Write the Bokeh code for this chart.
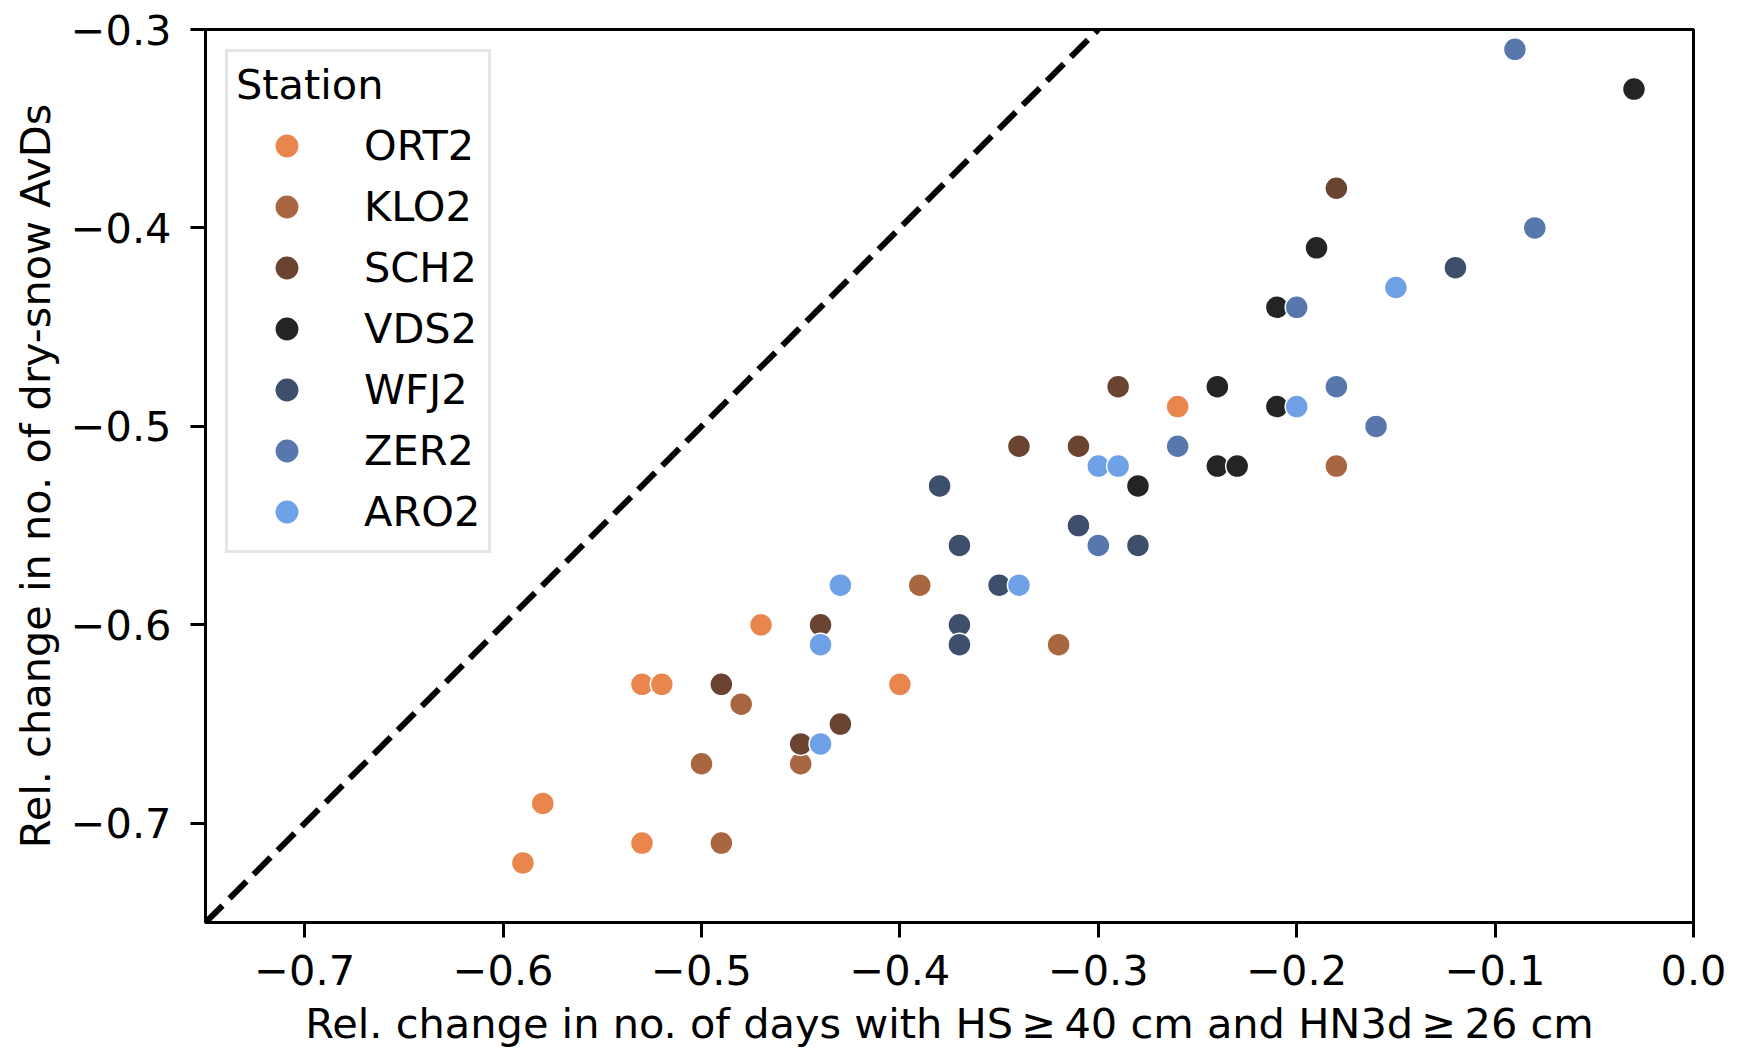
from bokeh.plotting import figure
from bokeh.models import (Legend, LegendItem, Slope, FixedTicker, ColumnDataSource,
                          CustomJSTickFormatter, Range1d)
from bokeh.embed import file_html
from bokeh.resources import INLINE

# ---------------- data ----------------
STATIONS = ["ORT2", "KLO2", "SCH2", "VDS2", "WFJ2", "ZER2", "ARO2"]
COLORS = ["#E8864E", "#A86641", "#6A4431", "#232426", "#3D4F6A", "#5878AD", "#6FA1E6"]

ORT2_X = [-0.26, -0.47, -0.53, -0.52, -0.40, -0.58, -0.59, -0.53]
ORT2_Y = [-0.49, -0.60, -0.63, -0.63, -0.63, -0.69, -0.72, -0.71]

KLO2_X = [-0.18, -0.39, -0.32, -0.48, -0.50, -0.45, -0.49]
KLO2_Y = [-0.52, -0.58, -0.61, -0.64, -0.67, -0.67, -0.71]

SCH2_X = [-0.18, -0.29, -0.34, -0.31, -0.44, -0.49, -0.43, -0.45]
SCH2_Y = [-0.38, -0.48, -0.51, -0.51, -0.60, -0.63, -0.65, -0.66]

VDS2_X = [-0.03, -0.19, -0.21, -0.24, -0.21, -0.24, -0.23, -0.28]
VDS2_Y = [-0.33, -0.41, -0.44, -0.48, -0.49, -0.52, -0.52, -0.53]

WFJ2_X = [-0.12, -0.38, -0.31, -0.37, -0.28, -0.35, -0.37, -0.37]
WFJ2_Y = [-0.42, -0.53, -0.55, -0.56, -0.56, -0.58, -0.60, -0.61]

ZER2_X = [-0.09, -0.08, -0.20, -0.18, -0.16, -0.26, -0.30]
ZER2_Y = [-0.31, -0.40, -0.44, -0.48, -0.50, -0.51, -0.56]

ARO2_X = [-0.15, -0.20, -0.30, -0.29, -0.43, -0.34, -0.44, -0.44]
ARO2_Y = [-0.43, -0.49, -0.52, -0.52, -0.58, -0.58, -0.61, -0.66]

SERIES_X = [ORT2_X, KLO2_X, SCH2_X, VDS2_X, WFJ2_X, ZER2_X, ARO2_X]
SERIES_Y = [ORT2_Y, KLO2_Y, SCH2_Y, VDS2_Y, WFJ2_Y, ZER2_Y, ARO2_Y]

X_RANGE = (-0.75, 0.0)
Y_RANGE = (-0.75, -0.3)
X_TICKS = [-0.7, -0.6, -0.5, -0.4, -0.3, -0.2, -0.1, 0.0]
X_TICK_LABELS = ["\u22120.7", "\u22120.6", "\u22120.5", "\u22120.4", "\u22120.3", "\u22120.2", "\u22120.1", "0.0"]
Y_TICKS = [-0.7, -0.6, -0.5, -0.4, -0.3]
Y_TICK_LABELS = ["\u22120.7", "\u22120.6", "\u22120.5", "\u22120.4", "\u22120.3"]

X_LABEL = "Rel. change in no. of days with HS\u2009\u2265\u200940 cm and HN3d\u2009\u2265\u200926 cm"
Y_LABEL = "Rel. change in no. of dry-snow AvDs"
LEGEND_TITLE = "Station"

FONT = "DejaVu Sans"
FS = "41.5px"

# ---------------- figure ----------------
p = figure(frame_width=1488, frame_height=893,
           min_border_left=205, min_border_right=45, min_border_top=29, min_border_bottom=134,
           x_range=Range1d(*X_RANGE), y_range=Range1d(*Y_RANGE),
           output_backend="svg", toolbar_location=None, tools="")

p.background_fill_color = "white"
p.border_fill_color = "white"
p.grid.visible = False
p.outline_line_color = "black"
p.outline_line_width = 3
p.outline_line_alpha = 1.0

fmt_code = """
let best = 0, bd = 1e9;
for (let i = 0; i < tvals.length; i++) {
  const d = Math.abs(tvals[i] - tick);
  if (d < bd) { bd = d; best = i; }
}
return tlabels[best];
"""
p.xaxis.ticker = FixedTicker(ticks=X_TICKS)
p.yaxis.ticker = FixedTicker(ticks=Y_TICKS)
p.xaxis.formatter = CustomJSTickFormatter(args=dict(tvals=X_TICKS, tlabels=X_TICK_LABELS), code=fmt_code)
p.yaxis.formatter = CustomJSTickFormatter(args=dict(tvals=Y_TICKS, tlabels=Y_TICK_LABELS), code=fmt_code)

for ax in (p.xaxis[0], p.yaxis[0]):
    ax.axis_line_width = 3
    ax.axis_line_color = "black"
    ax.major_tick_line_width = 3
    ax.major_tick_line_color = "black"
    ax.major_tick_out = 15
    ax.major_tick_in = 0
    ax.minor_tick_line_color = None
    ax.major_label_text_font = FONT
    ax.major_label_text_font_size = FS
    ax.major_label_text_color = "black"
    ax.axis_label_text_font = FONT
    ax.axis_label_text_font_size = FS
    ax.axis_label_text_font_style = "normal"
    ax.axis_label_text_color = "black"

p.xaxis.axis_label = X_LABEL
p.yaxis.axis_label = Y_LABEL
p.xaxis.major_label_standoff = 17
p.yaxis.major_label_standoff = 19
p.xaxis.axis_label_standoff = 11
p.yaxis.axis_label_standoff = 8

# diagonal y = x
p.add_layout(Slope(gradient=1, y_intercept=0, line_color="black", line_width=6,
                   line_dash="24 10"))

items = []
for name, color, xs, ys in zip(STATIONS, COLORS, SERIES_X, SERIES_Y):
    src = ColumnDataSource(dict(x=xs, y=ys))
    r = p.scatter("x", "y", source=src, size=23, fill_color=color, line_color="white",
                  line_width=1.5, marker="circle")
    items.append(LegendItem(label=name, renderers=[r]))

legend = Legend(items=items, title=LEGEND_TITLE, location="top_left")
legend.margin = 20
legend.padding = 8
legend.spacing = 0
legend.glyph_width = 101
legend.glyph_height = 61
legend.label_height = 61
legend.label_standoff = 27
legend.label_text_font = FONT
legend.label_text_font_size = FS
legend.label_text_color = "black"
legend.title_text_font = FONT
legend.title_text_font_size = FS
legend.title_text_font_style = "normal"
legend.title_text_color = "black"
legend.title_standoff = 6
legend.border_line_color = "#cccccc"
legend.border_line_width = 3.5
legend.background_fill_color = "white"
legend.background_fill_alpha = 0.85
p.add_layout(legend)

open("out.html", "w").write(file_html(p, INLINE))
